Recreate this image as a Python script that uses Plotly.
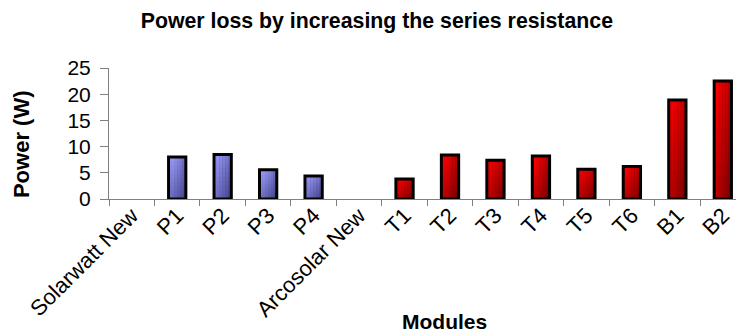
import plotly.graph_objects as go

# Power loss per module after raising the series resistance
modules = ["Solarwatt New", "P1", "P2", "P3", "P4", "Arcosolar New",
           "T1", "T2", "T3", "T4", "T5", "T6", "B1", "B2"]
power_loss = [0, 8.0, 8.5, 5.6, 4.4, 0, 3.8, 8.4, 7.4, 8.2, 5.7, 6.2, 18.9, 22.5]
family = ["P", "P", "P", "P", "P", "T", "T", "T", "T", "T", "T", "T", "T", "T"]

y_ticks = [0, 5, 10, 15, 20, 25]

# gradient end points (light top-left -> dark bottom-right) per family
shade_light = {"P": (158, 158, 255), "T": (255, 0, 0)}
shade_dark = {"P": (70, 70, 140), "T": (125, 0, 0)}

BAR_W = 0.38
N_COLS, N_ROWS = 6, 10
FONT = "Arial, Liberation Sans, sans-serif"

# reference modules have no loss: leave them without a bar
drawn = [p if p > 0 else None for p in power_loss]


def mix(a, b, t):
    return "rgb(%d,%d,%d)" % tuple(round(a[k] + (b[k] - a[k]) * t) for k in range(3))


def scaled(vals, f):
    return [None if v is None else v * f for v in vals]


fig = go.Figure()

# gradient fill: each cell spans from its own corner to the bar's top/right,
# later cells paint over earlier ones, so no seams appear
for i in range(N_COLS):
    u = i / (N_COLS - 1)
    for j in range(N_ROWS):
        v = j / (N_ROWS - 1)
        t = 0.5 * u + 0.5 * (1 - v)
        colors = [mix(shade_light[f], shade_dark[f], t) for f in family]
        fig.add_trace(go.Bar(
            x=modules,
            y=scaled(drawn, 1 - j / N_ROWS),
            base=scaled(drawn, j / N_ROWS),
            width=BAR_W * (1 - i / N_COLS),
            offset=-BAR_W / 2 + BAR_W * i / N_COLS,
            marker=dict(color=colors, line=dict(width=0)),
            hoverinfo="skip",
            showlegend=False,
        ))

# black outline on top of every bar
fig.add_trace(go.Bar(
    x=modules,
    y=drawn,
    width=BAR_W,
    marker=dict(color="rgba(0,0,0,0)", line=dict(color="black", width=3)),
    showlegend=False,
))

fig.update_layout(
    width=736, height=335, autosize=False,
    margin=dict(l=109, r=0, t=68, b=136),
    barmode="overlay",
    paper_bgcolor="white", plot_bgcolor="white",
    font=dict(family=FONT, color="black", size=21),
    title=dict(text="<b>Power loss by increasing the series resistance</b>",
               font=dict(family=FONT, size=21.3, color="black"),
               xref="container", x=0.512, xanchor="center",
               yref="container", y=0.96, yanchor="top"),
    xaxis=dict(
        type="category", range=[-0.5, 13.29],
        showline=True, linecolor="#808080", linewidth=1,
        ticks="outside", ticklen=6, tickcolor="#808080", tickson="boundaries",
        tickangle=-45, tickfont=dict(size=22), ticklabelstandoff=-6,
        showgrid=False, zeroline=False,
    ),
    yaxis=dict(
        range=[0, 25], tickvals=y_ticks,
        showline=True, linecolor="#808080", linewidth=1,
        ticks="outside", ticklen=8, tickcolor="#808080",
        tickfont=dict(size=21), ticklabelstandoff=5,
        showgrid=False, zeroline=False,
    ),
    annotations=[
        dict(text="<b>Power (W)</b>", textangle=-90, font=dict(size=22),
             xref="paper", x=0, xshift=-88, yref="paper", y=0.45, yshift=-4,
             xanchor="center", yanchor="middle", showarrow=False),
        dict(text="<b>Modules</b>", font=dict(size=21),
             xref="paper", x=0.535, yref="paper", y=-0.935,
             xanchor="center", yanchor="middle", showarrow=False),
    ],
)

fig.write_html("out.html")
